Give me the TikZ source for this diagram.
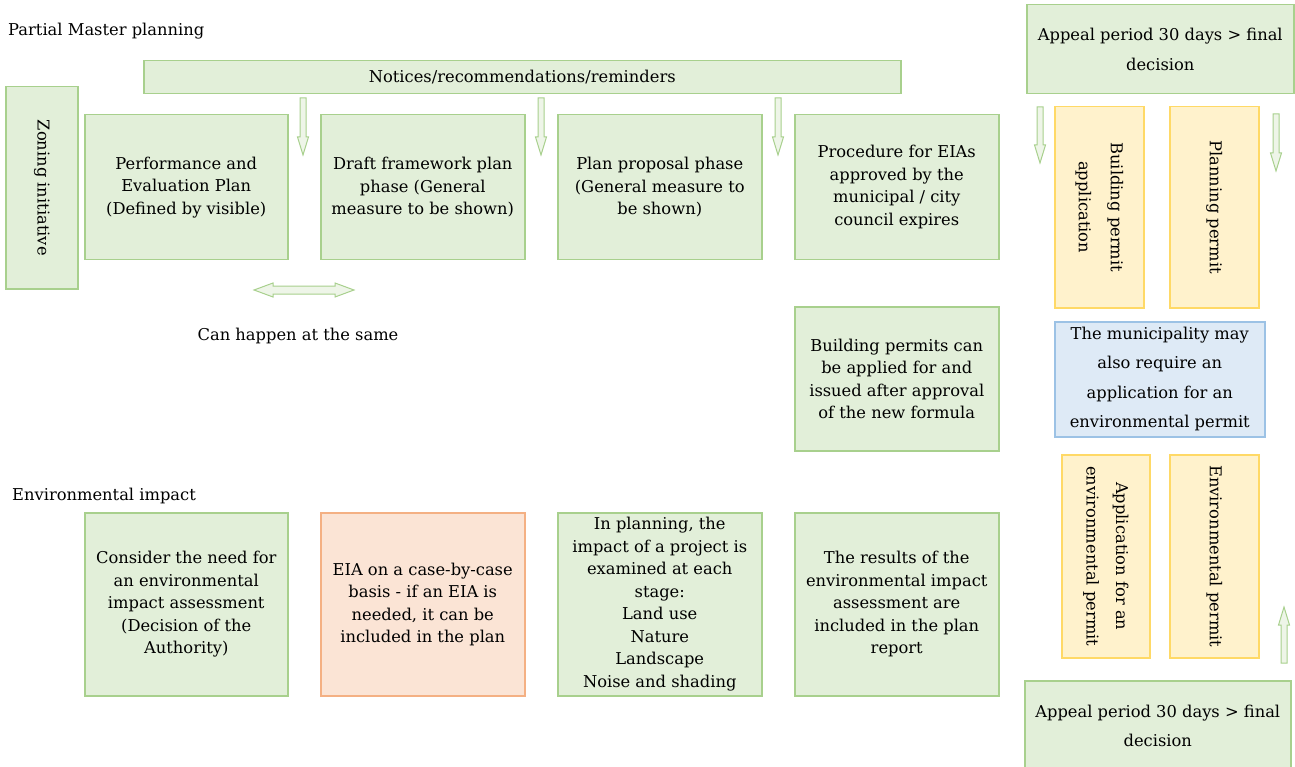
\documentclass[tikz,border=0pt]{standalone}
\usepackage{fontspec}
\setmainfont{DejaVu Serif}
\definecolor{gfill}{HTML}{E2EFD9}
\definecolor{gline}{HTML}{A8D08D}
\definecolor{ofill}{HTML}{FBE4D5}
\definecolor{oline}{HTML}{F4B083}
\definecolor{yfill}{HTML}{FFF2CC}
\definecolor{yline}{HTML}{FFD966}
\definecolor{bfill}{HTML}{DEEAF6}
\definecolor{bline}{HTML}{9CC2E5}
\newcommand{\txtsize}{\fontsize{16.3}{22.5}\selectfont}
\newcommand{\txtwide}{\fontsize{16.3}{29.5}\selectfont}
\newcommand{\txtvert}{\fontsize{16.3}{32}\selectfont}
% vertical block arrow: x, y of tail, y of tip
\newcommand{\blockvert}[3]{%
  \draw[blockarrow] ({#1-3},#2) -- ({#1+3},#2) -- ({#1+3},{#3-18*sign(#3-#2)})
    -- ({#1+5.5},{#3-18*sign(#3-#2)}) -- (#1,#3) -- ({#1-5.5},{#3-18*sign(#3-#2)})
    -- ({#1-3},{#3-18*sign(#3-#2)}) -- cycle;}
\begin{document}
\begin{tikzpicture}[x=1pt,y=-1pt,
  panel/.style={draw=gline, fill=gfill, line width=1.5pt, anchor=north west,
    inner sep=0pt, align=center, font=\txtsize, text=black},
  peach/.style={panel, draw=oline, fill=ofill},
  pale/.style={panel, draw=yline, fill=yfill},
  sky/.style={panel, draw=bline, fill=bfill},
  label/.style={font=\txtsize, inner sep=0pt, text=black},
  blockarrow/.style={draw=gline, fill=gfill!60, line width=1pt, line join=miter}]
\useasboundingbox (0,0) rectangle (1295,767);

% section titles
\node[label, anchor=west] (titleplan) at (8,31) {Partial Master planning};
\node[label, anchor=west] (titleenv) at (12,496) {Environmental impact};

% planning row
\node[panel, minimum width=757, minimum height=33] (notices) at (143,60) {Notices/recommendations/reminders};
\node[panel, minimum width=72, minimum height=202] (zoning) at (5,86) {};
\node[label, rotate=-90] (zoningtxt) at (zoning.center) {Zoning initiative};
\node[panel, minimum width=203, minimum height=145] (perf) at (84,114)
  {Performance and\\Evaluation Plan\\(Defined by visible)};
\node[panel, minimum width=204, minimum height=145] (draft) at (320,114)
  {Draft framework plan\\phase (General\\measure to be shown)};
\node[panel, minimum width=204, minimum height=145] (proposal) at (557,114)
  {Plan proposal phase\\(General measure to\\be shown)};
\node[panel, minimum width=204, minimum height=145] (eias) at (794,114)
  {Procedure for EIAs\\approved by the\\municipal / city\\council expires};
\node[panel, minimum width=204, minimum height=144] (bpermits) at (794,306)
  {Building permits can\\be applied for and\\issued after approval\\of the new formula};

\node[label] (same) at (298,336) {Can happen at the same};

% block arrows below the notices bar
\blockvert{303}{98}{155}
\blockvert{541}{98}{155}
\blockvert{778}{98}{155}

% two-headed arrow between the first phases
\draw[blockarrow] (254,290) -- (273,283) -- (273,286) -- (335,286) -- (335,283)
  -- (354,290) -- (335,297) -- (335,294) -- (273,294) -- (273,297) -- cycle;

% permit column
\node[panel, minimum width=267, minimum height=89, font=\txtwide] (appealtop) at (1026,4)
  {Appeal period 30 days > final\\decision};
\node[pale, minimum width=89, minimum height=201] (bpa) at (1054,106) {};
\node[label, rotate=-90, align=center, font=\txtvert] (bpatxt) at (bpa.center)
  {Building permit\\application};
\node[pale, minimum width=89, minimum height=201] (ppermit) at (1169,106) {};
\node[label, rotate=-90] (ppermittxt) at (ppermit.center) {Planning permit};
\blockvert{1040}{107}{163}
\blockvert{1276}{114}{171}

\node[sky, minimum width=210, minimum height=115, font=\txtwide] (munic) at (1054,321)
  {The municipality may\\also require an\\application for an\\environmental permit};

\node[pale, minimum width=88, minimum height=203] (aep) at (1061,454) {};
\node[label, rotate=-90, align=center, font=\txtwide] (aeptxt) at (aep.center)
  {Application for an\\environmental permit};
\node[pale, minimum width=89, minimum height=203] (epermit) at (1169,454) {};
\node[label, rotate=-90] (epermittxt) at (epermit.center) {Environmental permit};
\blockvert{1284}{663}{607}

\node[panel, minimum width=266, minimum height=90, font=\txtwide] (appealbot) at (1024,680)
  {Appeal period 30 days > final\\decision};

% environmental impact row
\node[panel, minimum width=203, minimum height=183] (consider) at (84,512)
  {Consider the need for\\an environmental\\impact assessment\\(Decision of the\\Authority)};
\node[peach, minimum width=204, minimum height=183] (casebycase) at (320,512)
  {EIA on a case-by-case\\basis - if an EIA is\\needed, it can be\\included in the plan};
\node[panel, minimum width=204, minimum height=183] (inplanning) at (557,512)
  {In planning, the\\impact of a project is\\examined at each\\stage:\\Land use\\Nature\\Landscape\\Noise and shading};
\node[panel, minimum width=204, minimum height=183] (results) at (794,512)
  {The results of the\\environmental impact\\assessment are\\included in the plan\\report};
\end{tikzpicture}
\end{document}
